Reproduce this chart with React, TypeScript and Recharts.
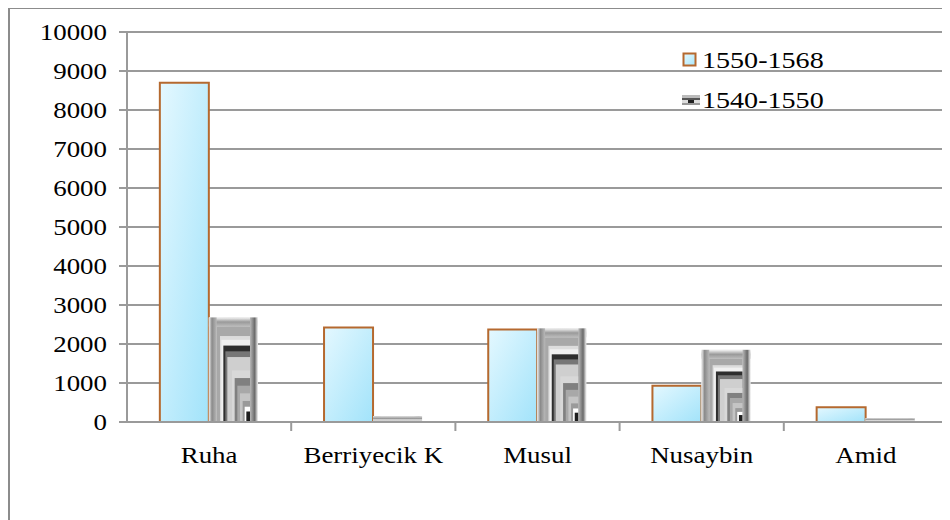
import React from 'react';
import { BarChart, Bar, XAxis, YAxis, CartesianGrid, Legend } from 'recharts';

const categories = ['Ruha', 'Berriyecik K', 'Musul', 'Nusaybin', 'Amid'];
const series1550 = [8700, 2420, 2370, 930, 380];
const series1540 = [2680, 150, 2400, 1850, 100];
const yTicks = [0, 1000, 2000, 3000, 4000, 5000, 6000, 7000, 8000, 9000, 10000];
const seriesNames = ['1550-1568', '1540-1550'];

const data = categories.map((c, i) => ({ name: c, a: series1550[i], b: series1540[i] }));

const FONT = '"Liberation Serif", "Times New Roman", serif';
const FS = 23;
const SX = 1.17;
const AXIS = '#9a9a9a';
const X_TICK_MARGIN = 24;

const GreyShape = (props: any) => {
  const { x, y, width, height } = props;
  if (!height || height <= 0) return null;
  const w = width;
  const h = height;
  const els: React.ReactNode[] = [];
  els.push(<rect key="base" x={x} y={y} width={w} height={h} fill="url(#greyCyl)" />);
  const inset = w * 0.16;
  const topCap = Math.min(9, h * 0.25);
  const layers = [
    { f: '#a8a8a8', s: 0 },
    { f: '#dcdcdc', s: 0.1 },
    { f: '#f0f0f0', s: 0.14 },
    { f: '#2e2e2e', s: 0.2 },
    { f: '#777777', s: 0.26 },
    { f: '#cfcfcf', s: 0.32 },
    { f: '#d8d8d8', s: 0.46 },
    { f: '#808080', s: 0.54 },
    { f: '#a8a8a8', s: 0.62 },
    { f: '#c4c4c4', s: 0.7 },
    { f: '#9a9a9a', s: 0.78 },
    { f: '#ffffff', s: 0.84 },
    { f: '#1e1e1e', s: 0.89 },
  ];
  const ix = x + inset;
  const iy = y + topCap;
  const iw = w - 2 * inset;
  const ih = h - topCap;
  if (iw > 0 && ih > 0) {
    layers.forEach((l, k) => {
      const lw = iw * (1 - l.s);
      const lh = ih * (1 - l.s);
      els.push(
        <rect key={'l' + k} x={ix + iw - lw} y={iy + ih - lh} width={lw} height={lh} fill={l.f} />
      );
    });
  }
  els.push(<rect key="top" x={x} y={y} width={w} height={topCap} fill="url(#greyTop)" />);
  els.push(<rect key="left" x={x} y={y} width={inset} height={h} fill="url(#greyEdge)" />);
  els.push(<rect key="right" x={x + w - inset} y={y} width={inset} height={h} fill="url(#greyEdgeR)" />);
  if (h < 10) {
    els.push(<rect key="flat" x={x} y={y} width={w} height={h} fill="url(#greyFlat)" />);
  }
  return <g>{els}</g>;
};

const XTick = (props: any) => {
  const { x, y, payload, width, visibleTicksCount } = props;
  const half = width && visibleTicksCount ? width / visibleTicksCount / 2 : NaN;
  const axisY = y - X_TICK_MARGIN;
  return (
    <g>
      {Number.isFinite(half) && (
        <line x1={x + half} x2={x + half} y1={axisY} y2={axisY + 9} stroke={AXIS} strokeWidth={2} />
      )}
      <g transform={`translate(${x},${y}) scale(${SX},1)`}>
        <text x={0} y={0} dy={FS * 0.72} textAnchor="middle" fill="#000" fontSize={FS} fontFamily={FONT}>
          {payload.value}
        </text>
      </g>
    </g>
  );
};

const YTick = (props: any) => {
  const { x, y, payload } = props;
  return (
    <g transform={`translate(${x},${y}) scale(${SX},1)`}>
      <text x={0} y={0} dy={FS * 0.34} textAnchor="end" fill="#000" fontSize={FS} fontFamily={FONT}>
        {payload.value}
      </text>
    </g>
  );
};

const labelStyle: React.CSSProperties = {
  display: 'inline-block',
  transform: `scaleX(${SX})`,
  transformOrigin: 'left center',
  whiteSpace: 'nowrap',
};

const renderLegend = () => (
  <div style={{ fontFamily: FONT, fontSize: 24, color: '#000', lineHeight: '40px', textAlign: 'left' }}>
    <div style={{ display: 'flex', alignItems: 'center' }}>
      <svg width={16} height={16} style={{ marginRight: 4 }}>
        <defs>
          <linearGradient id="lgC" x1="0" y1="0" x2="1" y2="1">
            <stop offset="0%" stopColor="#e6f9ff" />
            <stop offset="100%" stopColor="#a8e6fb" />
          </linearGradient>
        </defs>
        <rect x={1.5} y={1.5} width={12} height={12} fill="url(#lgC)" stroke="#b5692f" strokeWidth={2} />
      </svg>
      <span style={labelStyle}>{seriesNames[0]}</span>
    </div>
    <div style={{ display: 'flex', alignItems: 'center' }}>
      <svg width={18} height={16} style={{ marginRight: 2 }}>
        <rect x={0} y={3} width={18} height={3} fill="#bbbbbb" />
        <rect x={0} y={6} width={18} height={2} fill="#555555" />
        <rect x={0} y={8} width={18} height={3} fill="#dddddd" />
        <rect x={6} y={8} width={6} height={3} fill="#222222" />
        <rect x={0} y={11} width={18} height={2} fill="#999999" />
      </svg>
      <span style={labelStyle}>{seriesNames[1]}</span>
    </div>
  </div>
);

export default function App() {
  return (
    <div
      style={{
        width: 950,
        height: 520,
        borderLeft: '2px solid #8c8c8c',
        borderTop: '2px solid #8c8c8c',
        marginTop: -1,
        boxSizing: 'border-box',
        position: 'relative',
      }}
    >
      <BarChart
        width={938}
        height={510}
        data={data}
        margin={{ top: 23, right: 0, bottom: 0, left: 0 }}
        barCategoryGap="20%"
        barGap={0}
        style={{ fontFamily: FONT }}
      >
        <defs>
          <linearGradient id="cyanFill" x1="0" y1="0" x2="1" y2="1">
            <stop offset="0%" stopColor="#e4f8ff" />
            <stop offset="100%" stopColor="#a2e3fa" />
          </linearGradient>
          <linearGradient id="greyCyl" x1="0" y1="0" x2="1" y2="0">
            <stop offset="0%" stopColor="#d8d8d8" />
            <stop offset="50%" stopColor="#c4c4c4" />
            <stop offset="100%" stopColor="#d8d8d8" />
          </linearGradient>
          <linearGradient id="greyEdge" x1="0" y1="0" x2="1" y2="0">
            <stop offset="0%" stopColor="#efefef" />
            <stop offset="40%" stopColor="#8a8a8a" />
            <stop offset="100%" stopColor="#b8b8b8" />
          </linearGradient>
          <linearGradient id="greyEdgeR" x1="0" y1="0" x2="1" y2="0">
            <stop offset="0%" stopColor="#b8b8b8" />
            <stop offset="60%" stopColor="#6a6a6a" />
            <stop offset="100%" stopColor="#efefef" />
          </linearGradient>
          <linearGradient id="greyTop" x1="0" y1="0" x2="0" y2="1">
            <stop offset="0%" stopColor="#f4f4f4" />
            <stop offset="50%" stopColor="#9a9a9a" />
            <stop offset="100%" stopColor="#bcbcbc" />
          </linearGradient>
          <linearGradient id="greyFlat" x1="0" y1="0" x2="0" y2="1">
            <stop offset="0%" stopColor="#dddddd" />
            <stop offset="40%" stopColor="#9a9a9a" />
            <stop offset="70%" stopColor="#eeeeee" />
            <stop offset="100%" stopColor="#222222" />
          </linearGradient>
        </defs>
        <CartesianGrid vertical={false} stroke={AXIS} strokeWidth={2} />
        <XAxis
          dataKey="name"
          tickLine={false}
          tickSize={0}
          tickMargin={X_TICK_MARGIN}
          axisLine={{ stroke: AXIS, strokeWidth: 2 }}
          tick={(p: any) => <XTick {...p} />}
          height={97}
          interval={0}
        />
        <YAxis
          domain={[0, 10000]}
          ticks={yTicks}
          interval={0}
          width={117}
          tickSize={8}
          tickMargin={12}
          axisLine={{ stroke: AXIS, strokeWidth: 2 }}
          tickLine={{ stroke: AXIS, strokeWidth: 2 }}
          tick={(p: any) => <YTick {...p} />}
        />
        <Legend
          content={renderLegend}
          layout="horizontal"
          verticalAlign="middle"
          align="center"
          wrapperStyle={{ position: 'absolute', left: 672, top: 31, width: 200, height: 80 }}
        />
        <Bar
          dataKey="a"
          name={seriesNames[0]}
          fill="url(#cyanFill)"
          stroke="#b5692f"
          strokeWidth={2}
          isAnimationActive={false}
        />
        <Bar
          dataKey="b"
          name={seriesNames[1]}
          shape={GreyShape}
          isAnimationActive={false}
        />
      </BarChart>
    </div>
  );
}
